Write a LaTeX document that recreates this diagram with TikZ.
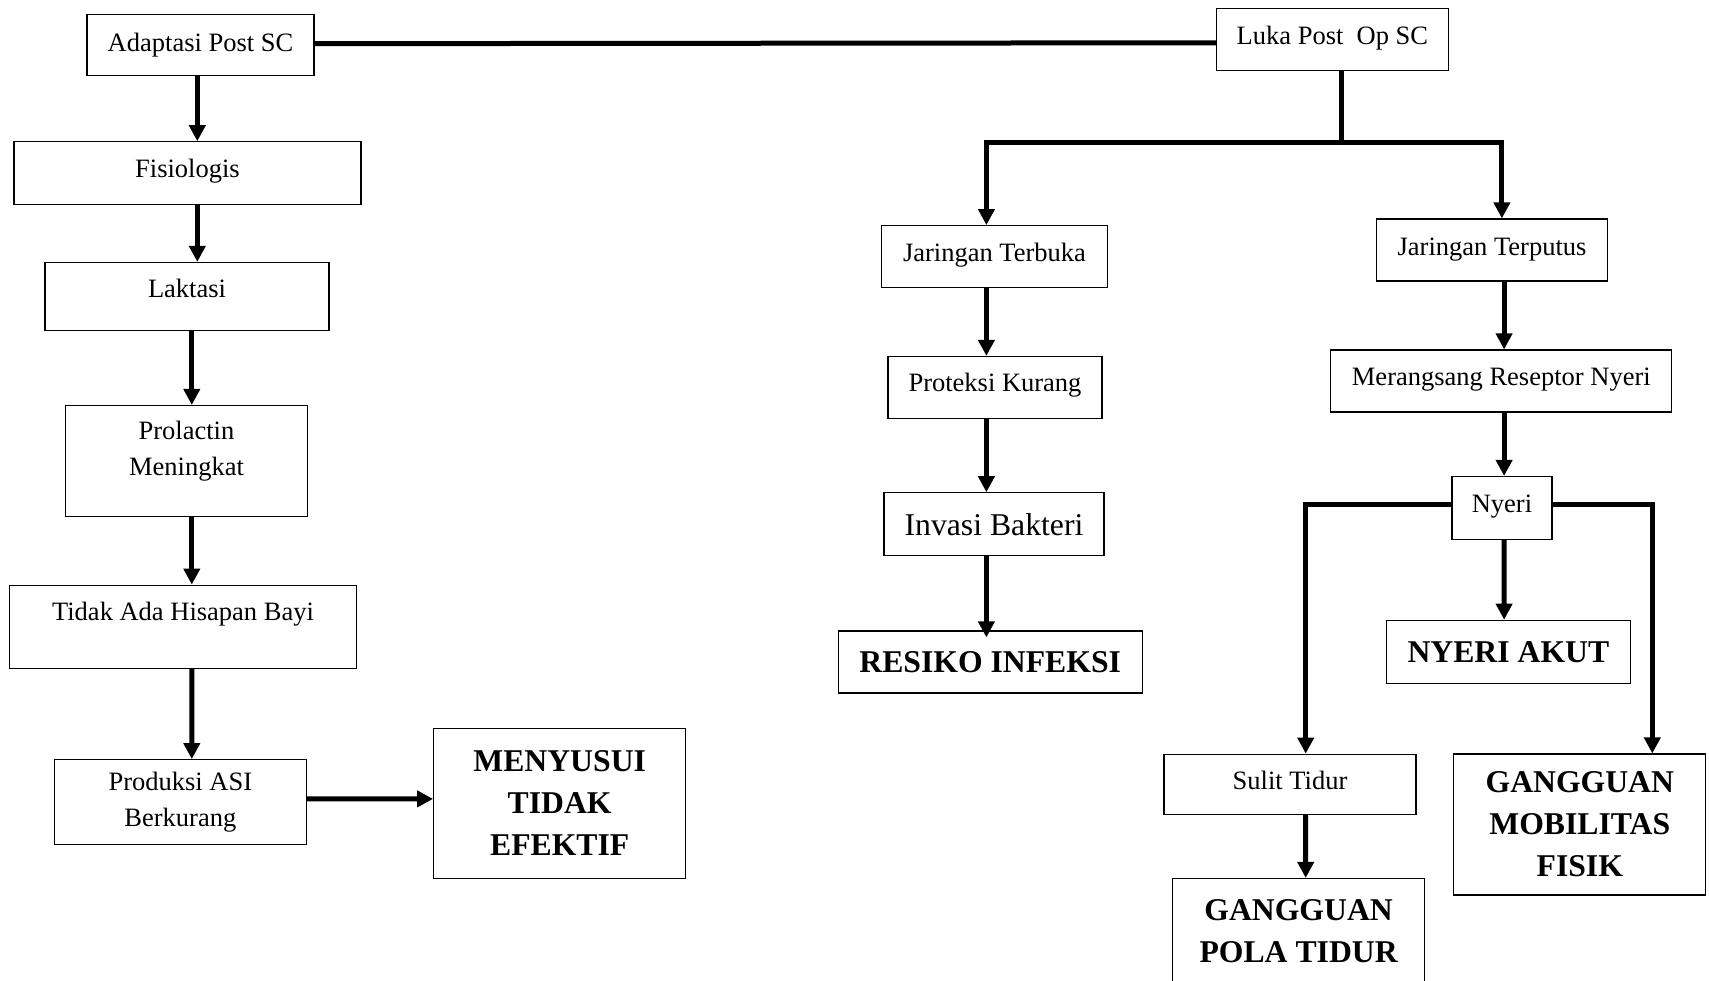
\documentclass[tikz,border=0pt]{standalone}
\usepackage{fontspec}
\setmainfont{Liberation Serif}
\usepackage{tikz}
\usetikzlibrary{arrows.meta}
\newcommand{\BoxText}{\fontsize{26.5}{36}\selectfont}
\newcommand{\DxText}{\fontsize{31.7}{42}\selectfont\bfseries}
\tikzset{
    box/.style={draw, line width=1.2pt, inner sep=0pt, align=center, font=\BoxText},
    dx/.style={box, font=\DxText},
    raised/.style={text depth=#1},
    link/.style={line width=5pt},
    flow/.style={link, -{Triangle[width=16pt, length=16pt]}},
}

\begin{document}
\begin{tikzpicture}[x=1pt, y=-1pt]
    \useasboundingbox (0,0) rectangle (1709,981);
    \clip (0,0) rectangle (1709,981);

    \node[box, raised=5pt, minimum width=227pt, minimum height=61pt] (adapt) at (200.5,44.7) {Adaptasi Post SC};
    \node[box, raised=10pt, minimum width=347pt, minimum height=63pt] (fisio) at (187.5,173.3) {Fisiologis};
    \node[box, raised=16pt, minimum width=284pt, minimum height=68pt] (laktasi) at (187,296.5) {Laktasi};
    \node[box, raised=26pt, minimum width=242pt, minimum height=111pt] (prolactin) at (186.5,461) {Prolactin\\Meningkat};
    \node[box, raised=30pt, minimum width=347pt, minimum height=83pt] (tidak) at (183,626.7) {Tidak Ada Hisapan Bayi};
    \node[box, minimum width=252pt, minimum height=85pt] (produksi) at (180.4,802.2) {Produksi ASI\\Berkurang};
    \node[dx, minimum width=252pt, minimum height=150pt] (menyusui) at (559.7,803.3) {MENYUSUI\\TIDAK\\EFEKTIF};

    \node[box, raised=9pt, minimum width=232pt, minimum height=62pt] (luka) at (1332.4,39.8) {Luka Post~ Op SC};
    \node[box, raised=8pt, minimum width=226pt, minimum height=62pt] (terbuka) at (994.5,256.7) {Jaringan Terbuka};
    \node[box, raised=6pt, minimum width=231pt, minimum height=62pt] (terputus) at (1492,250) {Jaringan Terputus};
    \node[box, raised=10pt, minimum width=214pt, minimum height=62pt] (proteksi) at (995,387.5) {Proteksi Kurang};
    \node[box, raised=8pt, minimum width=341pt, minimum height=62pt] (merangsang) at (1501.3,381) {Merangsang Reseptor Nyeri};
    \node[box, font=\fontsize{31.7}{38}\selectfont, minimum width=220pt, minimum height=63pt] (invasi) at (994,524.3) {Invasi Bakteri};
    \node[dx, minimum width=304pt, minimum height=62pt] (resiko) at (990.2,662) {RESIKO INFEKSI};
    \node[box, raised=8pt, minimum width=100pt, minimum height=63pt] (nyeri) at (1502,508) {Nyeri};
    \node[dx, minimum width=244pt, minimum height=63pt] (akut) at (1508.4,651.8) {NYERI AKUT};
    \node[box, raised=8pt, minimum width=252pt, minimum height=60pt] (sulit) at (1290,784.2) {Sulit Tidur};
    \node[dx, minimum width=252pt, minimum height=106pt] (pola) at (1298.6,931.5) {GANGGUAN\\POLA TIDUR};
    \node[dx, minimum width=252pt, minimum height=141pt] (mobil) at (1579.8,824.5) {GANGGUAN\\MOBILITAS\\FISIK};

    \coordinate (split) at (1341.7,142.8);

    \draw[flow] ([xshift=-3.2pt]adapt.south) -- ([xshift=9.8pt]fisio.north);
    \draw[flow] ([xshift=9.8pt]fisio.south) -- ([xshift=10.3pt]laktasi.north);
    \draw[flow] ([xshift=4.8pt]laktasi.south) -- ([xshift=5.3pt]prolactin.north);
    \draw[flow] ([xshift=5.3pt]prolactin.south) -- ([xshift=8.8pt]tidak.north);
    \draw[flow] ([xshift=8.8pt]tidak.south) -- ([xshift=11.4pt]produksi.north);
    \draw[flow] ([yshift=3.3pt]produksi.east) -- ([yshift=4.4pt]menyusui.west);

    \draw[link] ([yshift=1pt]adapt.east) -- ([yshift=-3pt]luka.west);
    \draw[link] ([xshift=9.3pt]luka.south) -- (split);
    \draw[flow] (split) -| ([xshift=-8.1pt]terbuka.north);
    \draw[flow] (split) -| ([xshift=9.9pt]terputus.north);

    \draw[flow] ([xshift=-8.1pt]terbuka.south) -- ([xshift=-8.6pt]proteksi.north);
    \draw[flow] ([xshift=-8.6pt]proteksi.south) -- ([xshift=-7.6pt]invasi.north);
    \draw[flow] ([xshift=-7.6pt]invasi.south) -- ([xshift=-3.8pt, yshift=-7pt]resiko.north);

    \draw[flow] ([xshift=12.1pt]terputus.south) -- ([xshift=2.8pt]merangsang.north);
    \draw[flow] ([xshift=2.8pt]merangsang.south) -- ([xshift=2.1pt]nyeri.north);
    \draw[flow] ([xshift=2.1pt]nyeri.south) -- ([xshift=-4.3pt]akut.north);
    \draw[flow] ([yshift=4pt]nyeri.west) -| ([xshift=15.7pt]sulit.north);
    \draw[flow] ([yshift=4pt]nyeri.east) -| ([xshift=72.5pt]mobil.north);
    \draw[flow] ([xshift=15.7pt]sulit.south) -- ([xshift=7.1pt]pola.north);
\end{tikzpicture}
\end{document}
